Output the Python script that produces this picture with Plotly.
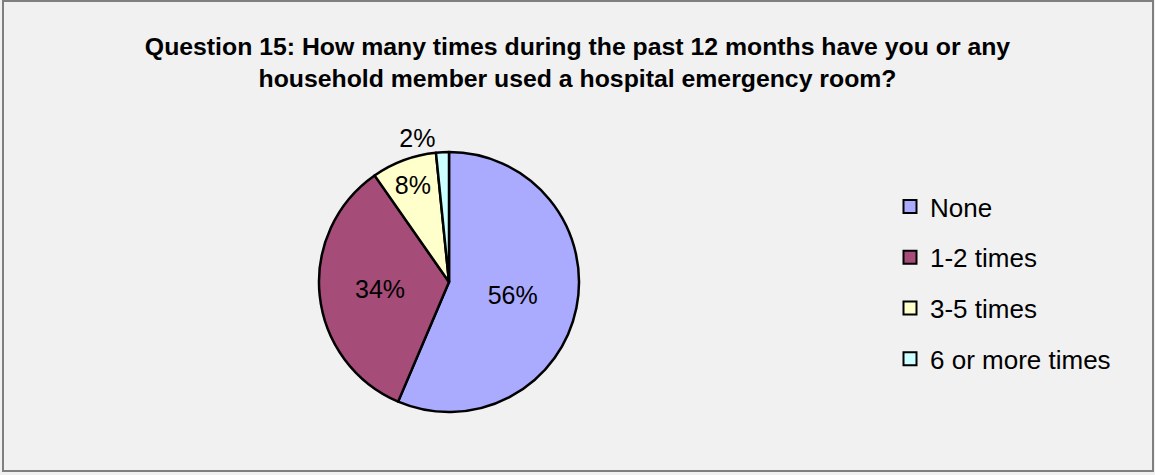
import plotly.graph_objects as go

categories = ["None", "1-2 times", "3-5 times", "6 or more times"]
values = [56.4, 33.9, 8.1, 1.6]
colors = ["#AAAAFF", "#A64C78", "#FFFFCC", "#CCFFFF"]
title_text = ("Question 15: How many times during the past 12 months have you or any<br>"
              "household member used a hospital emergency room?")

W, H = 1155, 475
cx, cy, r = 449, 282, 130

fig = go.Figure()
fig.add_trace(go.Pie(
    labels=categories, values=values, sort=False, direction="clockwise", rotation=0,
    marker=dict(colors=colors, line=dict(color="black", width=2.5)),
    texttemplate="%{percent:.0%}",
    textposition=["inside", "inside", "inside", "outside"],
    insidetextorientation="horizontal",
    textfont=dict(family="Liberation Sans, Arial", size=25, color="black"),
    showlegend=False, hoverinfo="label+percent",
    domain=dict(x=[(cx - r) / W, (cx + r) / W], y=[1 - (cy + r) / H, 1 - (cy - r) / H]),
))

for i, (c, col) in enumerate(zip(categories, colors)):
    fig.add_trace(go.Scatter(
        x=[None], y=[None], mode="markers", name=c, legendgroup=c,
        marker=dict(symbol="square", size=13, color=col, line=dict(color="black", width=2)),
    ))

fig.update_layout(
    width=W, height=H,
    paper_bgcolor="#F1F1F1", plot_bgcolor="#F1F1F1",
    margin=dict(l=0, r=0, t=0, b=0),
    xaxis=dict(visible=False), yaxis=dict(visible=False),
    title=dict(text=title_text, x=0.5, xanchor="center", y=1 - 55 / H, yanchor="middle",
               font=dict(family="Liberation Sans, Arial", size=24.8, color="black", weight="bold")),
    legend=dict(x=890 / W, y=1 - 183 / H, xanchor="left", yanchor="top",
                font=dict(family="Liberation Sans, Arial", size=26, color="black"),
                tracegroupgap=14, itemwidth=30, bgcolor="rgba(0,0,0,0)"),
    shapes=[dict(type="rect", xref="paper", yref="paper", x0=3 / W, x1=1153 / W,
                 y0=1 - 471 / H, y1=1 - 1 / H, line=dict(color="#7F7F7F", width=2))],
)

fig.write_html("out.html", config={"displayModeBar": False},
               post_script="document.body.style.margin='0';document.body.style.overflow='hidden';")
